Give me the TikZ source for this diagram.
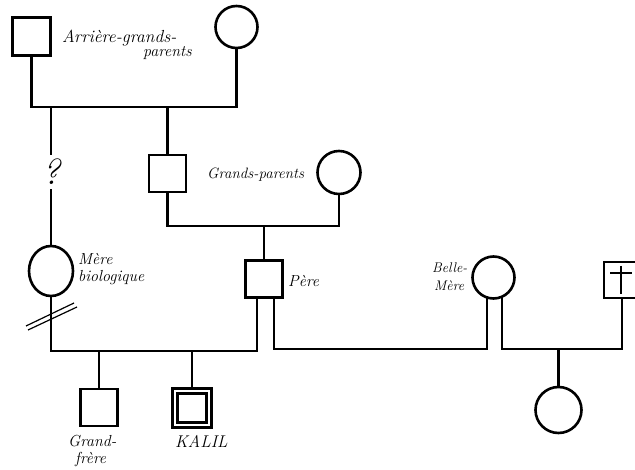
\documentclass[tikz,border=0pt]{standalone}
\usepackage{fontspec}
\usetikzlibrary{shapes.geometric}
\begin{document}
\begin{tikzpicture}[x=1pt,y=-1pt,
  male/.style={draw,line width=2.6pt,rectangle,minimum size=37pt,inner sep=0pt},
  female/.style={draw,line width=2.6pt,circle,minimum size=42pt,inner sep=0pt},
  link/.style={line width=2.5pt},
  lab/.style={anchor=west,inner sep=0pt,font=\itshape\fontsize{16}{17}\selectfont}]
\useasboundingbox (0,0) rectangle (635,470);
\clip (0,0) rectangle (635,470);
\fill[white] (0,0) rectangle (635,470);
% great-grandparents
\node[male,minimum size=38pt] (ggf) at (31.5,36.5) {};
\node[female,minimum size=42pt] (ggm) at (236.5,27) {};
\node[lab,font=\itshape\fontsize{17.5}{18}\selectfont] (tgg1) at (62,38) {Arrière-grands-};
\node[lab] (tgg2) at (143,53) {parents};
\coordinate (ggl) at (31.5,107);
\coordinate (ggr) at (236.5,107);
\draw[link] (ggf.south) -- (ggl) -- (ggr) -- (ggm.south);
% grandparents
\node[male] (gf) at (167.5,173.5) {};
\node[female,minimum size=43pt] (gm) at (339,172.5) {};
\node[lab,font=\itshape\fontsize{15}{16}\selectfont] (tgp) at (207,175) {Grands-parents};
\coordinate (ggd) at (167.5,107);
\draw[link] (ggd) -- (gf.north);
\coordinate (gpl) at (167.5,226);
\coordinate (gpr) at (339,226);
\draw[link] (gf.south) -- (gpl) -- (gpr) -- (gm.south);
% biological mother
\node[draw,line width=2.6pt,ellipse,minimum width=44pt,minimum height=50pt,inner sep=0pt] (mb) at (51,271) {};
\node[lab] (tmb1) at (78,259) {Mère};
\node[lab] (tmb2) at (78,278) {biologique};
\coordinate (ggm1) at (51,107);
\coordinate (qpos) at (51,172);
\draw[line width=2pt] (ggm1) -- (mb.north);
\node[fill=white,inner xsep=2pt,inner ysep=4pt,font=\itshape\fontsize{36}{36}\selectfont] (q) at (qpos) {?};
% father
\node[male] (pere) at (264,279) {};
\node[lab] (tpe) at (288,281) {Père};
\coordinate (gpd) at (264,226);
\draw[link] (gpd) -- (pere.north);
% first couple line
\coordinate (c1l) at (51,351);
\coordinate (c1r) at (257,351);
\coordinate (pf1) at (257,297);
\draw[link] (mb.south) -- (c1l) -- (c1r) -- (pf1);
% divorce marks
\draw[line width=1.2pt] (26,326) -- (74,303);
\draw[line width=1.2pt] (28,330) -- (77,307);
% children
\node[male] (gfr) at (99,407.5) {};
\node[lab] (tgf1) at (68,441) {Grand-};
\node[lab] (tgf2) at (75,459) {frère};
\coordinate (c1a) at (99,351);
\draw[link] (c1a) -- (gfr.north);
\node[male,minimum size=39pt] (kal) at (192,408) {};
\node[draw,line width=2.4pt,rectangle,minimum size=29pt,inner sep=0pt] (kali) at (192,408) {};
\node[lab,font=\itshape\fontsize{17}{17}\selectfont] (tka) at (175,441) {KALIL};
\coordinate (c1b) at (192,351);
\draw[link] (c1b) -- (kal.north);
% stepmother
\node[female] (bm) at (493.5,277.5) {};
\node[lab,font=\itshape\fontsize{14}{15}\selectfont] (tbm1) at (432,268) {Belle-};
\node[lab,font=\itshape\fontsize{14}{15}\selectfont] (tbm2) at (434,286) {Mère};
\coordinate (pf2) at (274,297);
\coordinate (c2l) at (274,349);
\coordinate (c2r) at (487,349);
\coordinate (bf1) at (487,296);
\draw[link] (pf2) -- (c2l) -- (c2r) -- (bf1);
% deceased partner
\node[draw,line width=2.6pt,rectangle,minimum size=36pt,inner sep=0pt] (dec) at (622,280) {};
\draw[line width=1.6pt] (621,266) -- (621,294);
\draw[line width=1.6pt] (610,273) -- (632,273);
\coordinate (bf2) at (502,296);
\coordinate (c3l) at (502,349);
\coordinate (c3r) at (622,349);
\draw[link] (bf2) -- (c3l) -- (c3r) -- (dec.south);
% half-sister
\node[female,minimum size=46pt] (hs) at (558.5,410) {};
\coordinate (c3a) at (558.5,349);
\draw[link] (c3a) -- (hs.north);
\end{tikzpicture}
\end{document}
